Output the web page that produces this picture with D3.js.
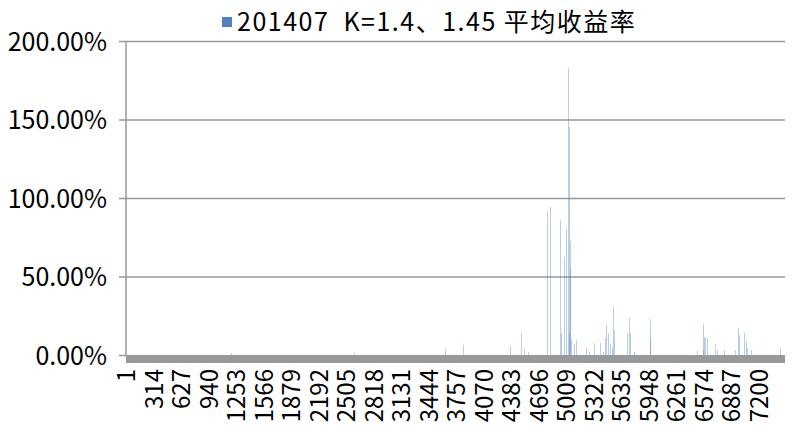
<!DOCTYPE html>
<html lang="zh">
<head>
  <meta charset="UTF-8">
  <title>201407 K=1.4、1.45 平均收益率</title>
  <script src="https://d3js.org/d3.v7.min.js"></script>
  <style>
    body { margin: 0; background: #fff; }
    svg text { font-family: "Noto Sans CJK SC", "Noto Sans", sans-serif; fill: #000; }
  </style>
</head>
<body>
  <svg width="792" height="429"></svg>

  <script>
    // number of categories on the x axis
    const categoryCount = 7500;

    // x tick labels (every 313th category)
    const xTickLabels = [1, 314, 627, 940, 1253, 1566, 1879, 2192, 2505, 2818, 3131, 3444,
      3757, 4070, 4383, 4696, 5009, 5322, 5635, 5948, 6261, 6574, 6887, 7200];

    // y tick values (fraction)
    const yTicks = [0, 0.5, 1, 1.5, 2];

    // non-zero bars: category index and average return
    const spikeIndex = [1195, 2595, 3630, 3835, 4370, 4495, 4529, 4575,
      4791, 4825, 4939, 4950, 4985, 5007, 5030, 5042, 5045, 5053, 5055, 5060,
      5098, 5121, 5235, 5269, 5326, 5394, 5428, 5451, 5463, 5485, 5508, 5531, 5542, 5554,
      5702, 5724, 5736, 5781, 5963, 5964,
      6498, 6566, 6568, 6578, 6589, 6612, 6703, 6726, 6805,
      6931, 6965, 6976, 7033, 7056, 7067, 7113, 7443];
    const spikeValue = [0.01, 0.01, 0.04, 0.065, 0.057, 0.14, 0.04, 0.02,
      0.92, 0.945, 0.86, 0.14, 0.625, 0.80, 1.83, 1.45, 0.14, 0.726, 0.55, 0.10,
      0.07, 0.095, 0.045, 0.02, 0.075, 0.075, 0.02, 0.11, 0.19, 0.14, 0.076, 0.05, 0.305, 0.16,
      0.14, 0.235, 0.14, 0.02, 0.23, 0.11,
      0.027, 0.03, 0.197, 0.115, 0.11, 0.11, 0.07, 0.03, 0.03,
      0.035, 0.17, 0.13, 0.14, 0.09, 0.045, 0.035, 0.045];

    const bars = spikeIndex.map((d, i) => ({ idx: d, value: spikeValue[i] }));

    const margin = { top: 41, right: 7, bottom: 74, left: 126 };
    const W = 792, H = 429;
    const width = W - margin.left - margin.right;
    const height = H - margin.top - margin.bottom;

    const svg = d3.select("svg");
    const g = svg.append("g")
      .attr("transform", `translate(${margin.left},${margin.top})`);

    const x = d3.scaleBand()
      .domain(d3.range(1, categoryCount + 1))
      .range([0, width])
      .padding(0);

    const y = d3.scaleLinear()
      .domain([0, 2])
      .range([height, 0]);

    // gridlines
    g.append("g")
      .attr("class", "grid")
      .call(d3.axisLeft(y).tickValues(yTicks.slice(1)).tickSize(-width).tickFormat(""))
      .call(s => s.select(".domain").remove())
      .selectAll("line")
      .attr("stroke", "#999")
      .attr("stroke-width", 1.5);

    // bars
    g.selectAll(".bar")
      .data(bars)
      .enter()
      .append("rect")
      .attr("class", "bar")
      .attr("x", d => Math.round(x(d.idx) + x.bandwidth() / 2))
      .attr("width", 1)
      .attr("y", d => y(d.value))
      .attr("height", d => y(0) - y(d.value))
      .attr("fill", "#4F81BD")
      .attr("fill-opacity", 0.4)
      .attr("shape-rendering", "crispEdges");

    // dense category tick marks merge into a solid band under the zero line
    g.append("rect")
      .attr("x", x.range()[0])
      .attr("y", y(0))
      .attr("width", x.range()[1] - x.range()[0])
      .attr("height", 8)
      .attr("fill", "#999");

    // y axis
    const yAxis = g.append("g")
      .attr("class", "y-axis")
      .call(d3.axisLeft(y).tickValues(yTicks).tickFormat(d3.format(".2%")).tickSize(7).tickPadding(12));
    yAxis.select(".domain").attr("stroke", "#999").attr("stroke-width", 1.5)
      .attr("d", `M0,0V${height}`);
    yAxis.selectAll("line").attr("stroke", "#999").attr("stroke-width", 1.5);
    yAxis.selectAll("text").style("font-size", "25px").attr("dy", "0.36em");

    // x axis labels
    const xAxis = g.append("g")
      .attr("class", "x-axis")
      .attr("transform", `translate(0,${height})`)
      .call(d3.axisBottom(x).tickValues(xTickLabels).tickSize(0));
    xAxis.select(".domain").remove();
    xAxis.selectAll("text")
      .style("font-size", "24px")
      .attr("text-anchor", "end")
      .attr("transform", "rotate(-90)")
      .attr("x", -14)
      .attr("y", 0)
      .attr("dy", "0.36em");

    // legend / title
    const legend = svg.append("g").attr("transform", "translate(222,15)");
    legend.append("rect")
      .attr("width", 10)
      .attr("height", 10)
      .attr("y", 2)
      .attr("fill", "#4F81BD");
    legend.append("text")
      .attr("x", 15)
      .attr("y", 7)
      .attr("dy", "0.36em")
      .style("font-size", "25px")
      .style("letter-spacing", "1.5px")
      .attr("xml:space", "preserve")
      .text("201407  K=1.4、1.45 平均收益率");
  </script>
</body>
</html>
